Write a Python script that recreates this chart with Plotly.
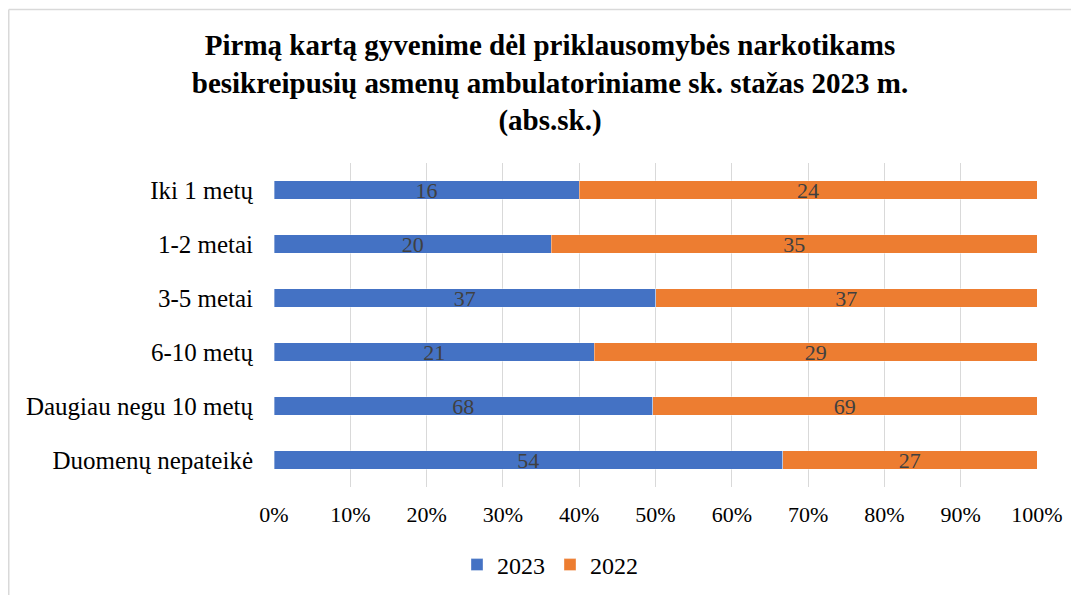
import plotly.graph_objects as go

categories = ["Iki 1 metų", "1-2 metai", "3-5 metai", "6-10 metų",
              "Daugiau negu 10 metų", "Duomenų nepateikė"]
values_2023 = [16, 20, 37, 21, 68, 54]
values_2022 = [24, 35, 37, 29, 69, 27]
series_names = ["2023", "2022"]
tick_vals = [0, 10, 20, 30, 40, 50, 60, 70, 80, 90, 100]
tick_text = [f"{v}%" for v in tick_vals]

FONT = "Liberation Serif"
colors = ["#4472C4", "#ED7D31"]

fig = go.Figure()
for name, vals, col in zip(series_names, [values_2023, values_2022], colors):
    fig.add_trace(go.Bar(
        y=categories, x=vals, name=name, orientation="h",
        marker=dict(color=col, line=dict(color="rgba(255,255,255,0.6)", width=0.6)),
        text=vals, texttemplate="%{text}", textposition="inside",
        insidetextanchor="middle", constraintext="none", textangle=0,
        textfont=dict(family=FONT, size=22, color="#404040"),
        hoverinfo="skip",
    ))

# page is offset by the 8px body margin; figure coordinates = page - 8
W, H = 1071, 587
L, T = 266, 155
R = W - 1029
B = H - 479
pw, ph = W - L - R, H - T - B
def px(x): return (x - L) / pw
def py(y): return (H - B - y) / ph

fig.update_layout(
    width=W, height=H,
    barmode="stack", barnorm="percent", bargap=0.65,
    margin=dict(l=L, r=R, t=T, b=B, autoexpand=False),
    paper_bgcolor="white", plot_bgcolor="white",
    font=dict(family=FONT, size=22, color="#000000"),
    title=dict(
        text="<b>Pirmą kartą gyvenime dėl priklausomybės narkotikams<br>"
             "besikreipusių asmenų ambulatoriniame sk. stažas 2023 m.<br>(abs.sk.)</b>",
        x=542 / W, xref="container", xanchor="center",
        y=1 - 47 / H, yref="container", yanchor="top",
        font=dict(family=FONT, size=29, color="#000000"),
    ),
    xaxis=dict(range=[0, 100], tickvals=tick_vals, ticktext=tick_text,
               showgrid=True, gridcolor="#d9d9d9", gridwidth=1,
               zeroline=False, showline=False, ticks="",
               ticklabelstandoff=12,
               tickfont=dict(family=FONT, size=22, color="#000000"),
               fixedrange=True),
    yaxis=dict(autorange="reversed", showgrid=False, zeroline=False,
               showline=False, ticks="", ticklabelstandoff=20,
               tickfont=dict(family=FONT, size=25, color="#000000"),
               fixedrange=True),
    legend=dict(orientation="h", xref="container", x=542 / W, xanchor="center",
                yref="container", y=1 - 557 / H, yanchor="middle",
                font=dict(family=FONT, size=24, color="#000000"),
                traceorder="normal", itemwidth=30, tracegroupgap=0),
    showlegend=True,
    shapes=[
        dict(type="line", xref="paper", yref="paper",
             x0=px(0.75), x1=px(0.75), y0=py(650), y1=py(1.5),
             line=dict(color="#d9d9d9", width=1.5)),
        dict(type="line", xref="paper", yref="paper",
             x0=px(0.75), x1=px(1150), y0=py(1.5), y1=py(1.5),
             line=dict(color="#d9d9d9", width=1.5)),
    ],
)

fig.write_html("out.html")
